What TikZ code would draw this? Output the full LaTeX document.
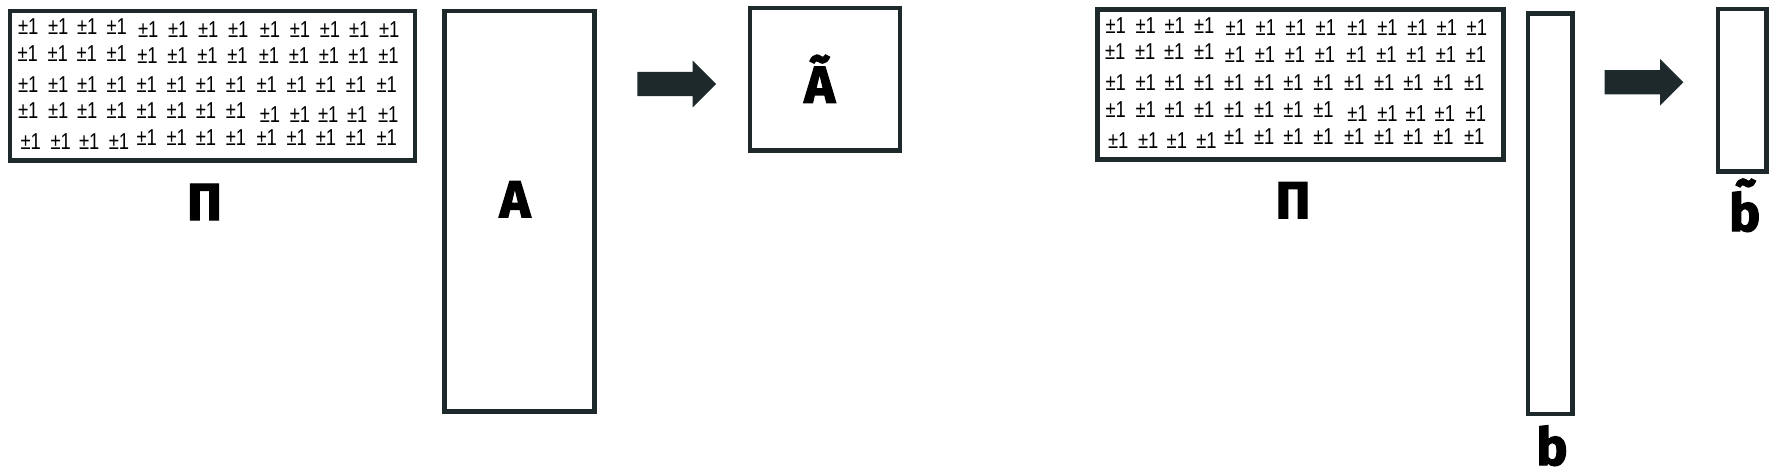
\documentclass[tikz,border=0pt]{standalone}
\usepackage{fontspec}
\newfontfamily\pmfont{Liberation Sans}[FakeStretch=0.8]
\newfontfamily\labfont{Fira Sans}[BoldFeatures={FakeBold=2.5}]
\definecolor{dark}{RGB}{30,41,44}
\tikzset{
  box/.style={draw=dark, line width=4.7pt, rectangle, inner sep=0pt, fill=white},
  pm/.style={font=\pmfont\fontsize{23}{23}\selectfont, inner sep=0pt, anchor=center},
  lab/.style={font=\labfont\bfseries\fontsize{52}{60}\selectfont, inner sep=0pt, anchor=base},
  blockarrow/.pic={\fill[dark] (0,0) -- (-23.3,-23.3) -- (-23.3,-12.1) -- (-78.7,-12.1) -- (-78.7,12.1) -- (-23.3,12.1) -- (-23.3,23.3) -- cycle;}
}
\newcommand\pmgrid[3]{%
\begin{scope}[shift={(#2,#3)}]
\foreach \x [count=\i] in {28.3,58.3,87.3,116.7} \node[pm] (#1-1-\i) at (\x,26.7) {±1};
\foreach \x [count=\i from 5] in {148.3,178.3,208.3,238.3,270,300,330,359.3,389.3} \node[pm] (#1-1-\i) at (\x,29.3) {±1};
\foreach \x [count=\i] in {27.7,57.7,86.7,116.7} \node[pm] (#1-2-\i) at (\x,53.3) {±1};
\foreach \x [count=\i from 5] in {147.5,177.5,207.5,237.5,269,299,329,358.5,388.5} \node[pm] (#1-2-\i) at (\x,56) {±1};
\foreach \x [count=\i] in {28.3,58.3,87.3,116.7,146.7,176.7,206,236,266.7,296.7,326,356,386.7} \node[pm] (#1-3-\i) at (\x,84.3) {±1};
\foreach \x [count=\i] in {28.3,58.3,87.3,116.7,146.7,176.7,206,236} \node[pm] (#1-4-\i) at (\x,111) {±1};
\foreach \x [count=\i from 9] in {270,300,328.3,357.3,388.3} \node[pm] (#1-4-\i) at (\x,115) {±1};
\foreach \x [count=\i] in {30.7,60.7,89.3,119} \node[pm] (#1-5-\i) at (\x,141.7) {±1};
\foreach \x [count=\i from 5] in {146.7,176.7,206,236,266.7,296.7,326,356,386.7} \node[pm] (#1-5-\i) at (\x,137.7) {±1};
\end{scope}}
\begin{document}
\begin{tikzpicture}[x=1pt,y=-1pt]
\useasboundingbox (0,0) rectangle (1791,472);
% left part
\node[box, minimum width=405pt, minimum height=149.5pt] (P1) at (212.5,85.75) {};
\pmgrid{pa}{0}{0}
\node[lab] (P1lab) at (204.5,220) {Π};
\node[box, minimum width=150.2pt, minimum height=400.7pt] (A) at (519.6,211.35) {};
\node[lab] (Alab) at (515,217.3) {A};
\pic at (716,84) {blockarrow};
\node[box, minimum width=150pt, minimum height=142.8pt] (At) at (825,79.4) {};
\node[lab] (Atlab) at (819.7,102.7) {Ã};
% right part
\node[box, minimum width=405.8pt, minimum height=150pt] (P2) at (1300.4,84.2) {};
\pmgrid{pb}{1087.5}{-1.5}
\node[lab] (P2lab) at (1293,218.3) {Π};
\node[box, minimum width=44.7pt, minimum height=400.8pt] (b) at (1550.35,213.6) {};
\node[lab] (blab) at (1552,465) {b};
\pic at (1683.3,82.2) {blockarrow};
\node[box, minimum width=48.8pt, minimum height=162.7pt] (bt) at (1742.4,90.35) {};
\node[lab] (btlab) at (1744.7,231) {b̃};
\end{tikzpicture}
\end{document}
